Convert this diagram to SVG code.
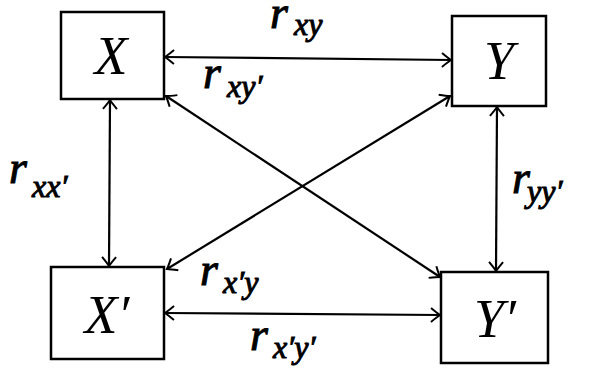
<svg xmlns="http://www.w3.org/2000/svg" width="589" height="369" viewBox="0 0 589 369">
<style>
.box{fill:#fff;stroke:#000;stroke-width:2.5}
.node{font-family:"Liberation Serif","DejaVu Serif",serif;font-style:italic;font-size:54px;fill:#000;text-anchor:middle}
.lab{font-family:"Liberation Serif","DejaVu Serif",serif;font-style:italic;font-size:46px;fill:#000;stroke:#000;stroke-width:1}
.sub{font-size:32px}
.edge{fill:none;stroke:#000;stroke-width:2.2;marker-start:url(#ah);marker-end:url(#ah)}
</style>
<defs>
<marker id="ah" viewBox="-12 -8 14 16" refX="0" refY="0" markerWidth="14" markerHeight="16" markerUnits="userSpaceOnUse" orient="auto-start-reverse">
<path d="M -9 -7 Q -3 -2 0 0 Q -3 2 -9 7" fill="none" stroke="#000" stroke-width="2"/>
</marker>
</defs>
<rect width="589" height="369" fill="#fff"/>
<g id="connectors">
<line class="edge" x1="165" y1="57" x2="451" y2="60"/>
<line class="edge" x1="110" y1="100" x2="109" y2="266"/>
<line class="edge" x1="497" y1="107" x2="496" y2="271"/>
<line class="edge" x1="165" y1="313" x2="440" y2="315"/>
<line class="edge" x1="166" y1="96" x2="440" y2="277"/>
<line class="edge" x1="167" y1="269" x2="450" y2="96"/>
</g>
<g id="X">
<rect class="box" x="61" y="12" width="103" height="87"/>
<text class="node" x="111" y="74">X</text>
</g>
<g id="Y">
<rect class="box" x="452" y="16" width="94" height="90"/>
<text class="node" x="499" y="79">Y</text>
</g>
<g id="Xp">
<rect class="box" x="51" y="267" width="113" height="92"/>
<text class="node" x="107" y="333">X′</text>
</g>
<g id="Yp">
<rect class="box" x="441" y="272" width="107" height="91"/>
<text class="node" x="495" y="337">Y′</text>
</g>
<g id="labels">
<text class="lab" x="270" y="28">r<tspan class="sub" x="294" y="35">xy</tspan></text>
<text class="lab" x="203" y="88">r<tspan class="sub" x="227" y="97">xy′</tspan></text>
<text class="lab" x="9" y="183">r<tspan class="sub" x="32" y="197">xx′</tspan></text>
<text class="lab" x="512" y="193">r<tspan class="sub" x="527" y="202">yy′</tspan></text>
<text class="lab" x="200" y="285">r<tspan class="sub" x="223" y="293">x′y</tspan></text>
<text class="lab" x="250" y="350">r<tspan class="sub" x="273" y="358">x′y′</tspan></text>
</g>
</svg>
